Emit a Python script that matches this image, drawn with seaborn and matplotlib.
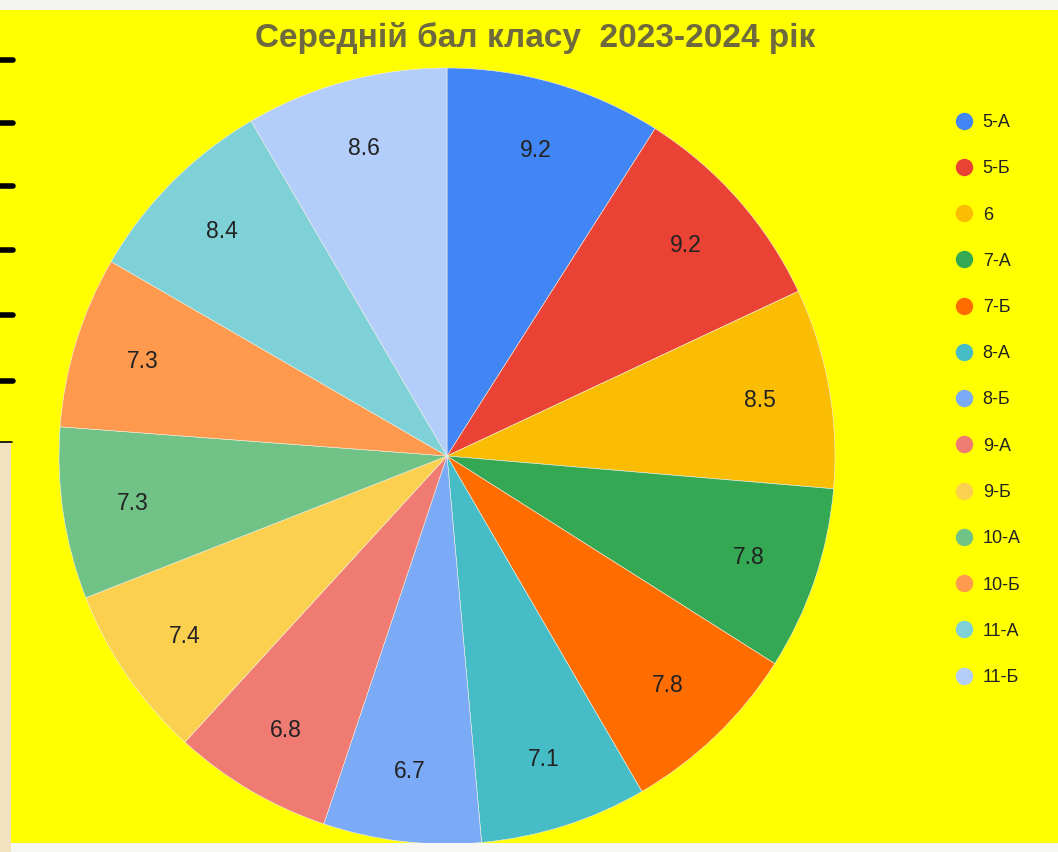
import matplotlib
matplotlib.use("Agg")
import matplotlib.pyplot as plt
from matplotlib.lines import Line2D
from matplotlib.patches import Rectangle
import seaborn as sns

classes = ["5-А", "5-Б", "6", "7-А", "7-Б", "8-А", "8-Б", "9-А", "9-Б", "10-А", "10-Б", "11-А", "11-Б"]
scores = [9.2, 9.2, 8.5, 7.8, 7.8, 7.1, 6.7, 6.8, 7.4, 7.3, 7.3, 8.4, 8.6]
colors = ["#4285F4", "#EA4335", "#FBBC04", "#34A853", "#FF6D01", "#46BDC6", "#7BAAF7",
          "#F07B72", "#FCD04F", "#71C287", "#FF994D", "#7ED1D7", "#B3CEFB"]
title = "Середній бал класу  2023-2024 рік"

sns.set_theme(style="white")
plt.rcParams["font.family"] = ["Liberation Sans", "DejaVu Sans"]
palette = sns.color_palette(colors)

W, H = 1058, 852
fig = plt.figure(figsize=(W / 100, H / 100), dpi=100)
fig.patch.set_facecolor("#FFFF00")

# screenshot frame strips
fig.patches.append(Rectangle((0, 1 - 10 / H), 1, 10 / H, transform=fig.transFigure,
                             facecolor="#F4F4F0", edgecolor="none", zorder=0))
fig.patches.append(Rectangle((0, 0), 1, 9 / H, transform=fig.transFigure,
                             facecolor="#F6F6F2", edgecolor="none", zorder=0))
fig.patches.append(Rectangle((0, 0), 11 / W, 410 / H, transform=fig.transFigure,
                             facecolor="#F3E2C0", edgecolor="none", zorder=0))
for yy in [60, 123, 186, 250, 315, 381]:
    fig.add_artist(Line2D([0, 13 / W], [1 - yy / H] * 2, transform=fig.transFigure,
                          color="black", linewidth=4))
fig.add_artist(Line2D([0, 12 / W], [1 - 442 / H] * 2, transform=fig.transFigure,
                      color="black", linewidth=1.2))

cx, cy, r = 447, 456, 388
ax = fig.add_axes([(cx - r) / W, (H - cy - r) / H, 2 * r / W, 2 * r / H])
ax.set_facecolor("none")

vals_iter = iter(scores)
wedges, texts, autotexts = ax.pie(
    scores, colors=palette, startangle=90, counterclock=False,
    autopct=lambda p: f"{next(vals_iter)}", pctdistance=0.82,
    wedgeprops=dict(linewidth=0.4, edgecolor="#eeeeee"),
    textprops=dict(fontsize=16.5, color="#222222"))
ax.set_xlim(-1, 1)
ax.set_ylim(-1, 1)
ax.set_aspect("equal")
ax.axis("off")

fig.text(535 / W, 1 - 38 / H, title, ha="center", va="center",
         fontsize=24, fontweight="bold", color="#6e6a3e")

handles = [Line2D([0], [0], marker="o", linestyle="none", markersize=11.5,
                  markerfacecolor=c, markeredgecolor=c) for c in palette]
leg = fig.legend(handles, classes, loc="upper left",
                 bbox_to_anchor=(955 / W, 1 - 114 / H), frameon=False,
                 fontsize=13, labelspacing=1.62, handletextpad=0.53,
                 handlelength=1.0, borderpad=0, borderaxespad=0)
for t in leg.get_texts():
    t.set_color("#222222")

fig.savefig("out.png", dpi=100, facecolor=fig.get_facecolor())
